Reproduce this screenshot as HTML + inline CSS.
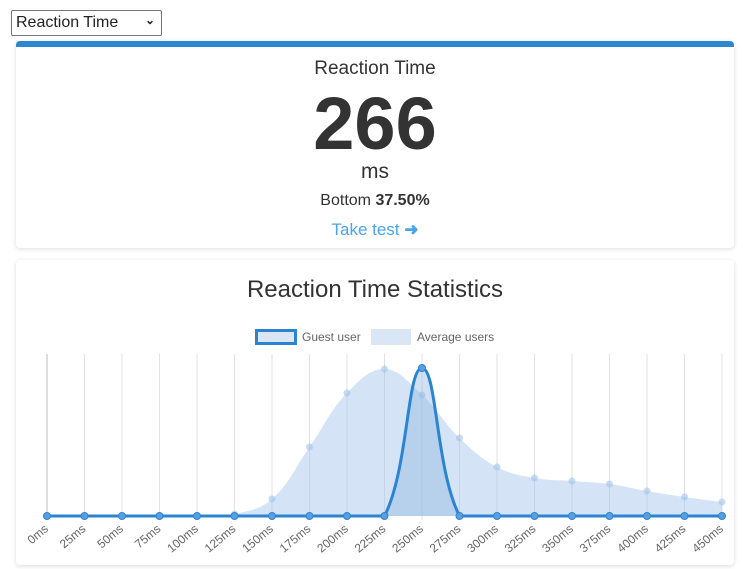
<!DOCTYPE html>
<html><head><meta charset="utf-8"><style>
html,body{margin:0;padding:0;background:#fff;width:743px;height:569px;overflow:hidden;font-family:"Liberation Sans",sans-serif;}
.sel{position:absolute;left:11px;top:10px;width:151px;height:26px;border:1px solid #767676;border-radius:2px;box-sizing:border-box;font-size:16px;color:#222;padding:3px 0 0 4px;}
.sel span.ar{position:absolute;right:6px;top:2px;font-size:12px;font-weight:bold;}
.card{position:absolute;background:#fff;border-radius:4px;box-shadow:0 1px 5px rgba(0,0,0,0.15);}
.c1{left:16px;top:41px;width:718px;height:207px;border-top:6px solid #2b88d0;box-sizing:border-box;text-align:center;color:#333;}
.c2{left:16px;top:260px;width:718px;height:305px;}
</style></head><body>
<div class="sel">Reaction Time<span class="ar">&#8964;</span></div>
<div class="card c1">
 <div style="position:absolute;left:0;right:0;top:11px;font-size:19px;">Reaction Time</div>
 <div style="position:absolute;left:0;right:0;top:34px;font-size:74px;font-weight:bold;line-height:86px;">266</div>
 <div style="position:absolute;left:0;right:0;top:113px;font-size:21px;">ms</div>
 <div style="position:absolute;left:0;right:0;top:145px;font-size:16px;">Bottom <b>37.50%</b></div>
 <div style="position:absolute;left:0;right:0;top:173px;font-size:17px;color:#4aa3ee;">Take test <b>&#10140;</b></div>
</div>
<div class="card c2">
 <div style="position:absolute;left:0;right:0;top:16px;text-align:center;font-size:24px;color:#333;">Reaction Time Statistics</div>
</div>
<svg id="chart" width="743" height="569" style="position:absolute;left:0;top:0"></svg>
<script>
const categories=[0,25,50,75,100,125,150,175,200,225,250,275,300,325,350,375,400,425,450];
const averageUsers=[0,0,0,0,0,2,17,69,123,147,121,78,49,38,35,32,25,19,14];
const guestUser=[0,0,0,0,0,0,0,0,0,0,148,0,0,0,0,0,0,0,0];
const yMax=162;
const X0=47,X1=722,Y0=516,Y1=354;
const NS='http://www.w3.org/2000/svg';
const svg=document.getElementById('chart');
const xs=i=>X0+(X1-X0)*i/(categories.length-1);
const ys=v=>Y0-(Y0-Y1)*v/yMax;
function mk(t,a){const e=document.createElementNS(NS,t);for(const k in a)e.setAttribute(k,a[k]);svg.appendChild(e);return e;}
categories.forEach((c,i)=>{
 const g=mk('line',{x1:xs(i),x2:xs(i),y1:Y1,y2:Y0+4,stroke:i==0?'#bbb':'#e2e2e2','stroke-width':1});
 
 
 const tx=xs(i)+2,ty=Y0+14;
 const t=mk('text',{x:tx,y:ty,'font-size':12,fill:'#666','text-anchor':'end','font-family':'Liberation Sans, sans-serif',transform:`rotate(-40 ${tx} ${ty})`});
 t.textContent=c+'ms';
 
 
});
function pathFor(vals){
 const p=vals.map((v,i)=>[xs(i),ys(v)]);
 let d=`M${p[0][0]},${p[0][1]}`;
 const tn=0.4;
 const cps=p.map((pt,i)=>{
  const prev=p[i-1]||pt,next=p[i+1]||pt;
  const d01=Math.hypot(pt[0]-prev[0],pt[1]-prev[1]),d12=Math.hypot(next[0]-pt[0],next[1]-pt[1]);
  let fa=d01/(d01+d12)||0,fb=d12/(d01+d12)||0;fa*=tn;fb*=tn;
  const cl=y=>Math.min(Y0,Math.max(Y1,y));
  return {px:pt[0]-fa*(next[0]-prev[0]),py:cl(pt[1]-fa*(next[1]-prev[1])),nx:pt[0]+fb*(next[0]-prev[0]),ny:cl(pt[1]+fb*(next[1]-prev[1]))};
 });
 for(let i=1;i<p.length;i++)d+=` C${cps[i-1].nx},${cps[i-1].ny} ${cps[i].px},${cps[i].py} ${p[i][0]},${p[i][1]}`;
 return d;
}
const avg=mk('path',{d:pathFor(averageUsers)+` L${X1},${Y0} L${X0},${Y0} Z`,fill:'rgba(160,196,236,0.45)',stroke:'none'});


averageUsers.forEach((v,i)=>{const c=mk('circle',{cx:xs(i),cy:ys(v),r:3.5,fill:'rgba(160,196,236,0.6)'});
 
 });
const ga=mk('path',{d:pathFor(guestUser)+` L${X1},${Y0} L${X0},${Y0} Z`,fill:'rgba(140,180,225,0.4)',stroke:'none'});


const gl=mk('path',{d:pathFor(guestUser),fill:'none',stroke:'#2b84d2','stroke-width':3});


guestUser.forEach((v,i)=>{const c=mk('circle',{cx:xs(i),cy:ys(v),r:3.5,fill:'#5b9ee0',stroke:'#2b84d2','stroke-width':1});
 
 });
const l1=mk('rect',{x:256.5,y:330.5,width:39,height:13,fill:'#d8e6f6',stroke:'#2b84d2','stroke-width':3});


const t1=mk('text',{x:302,y:341,'font-size':12,fill:'#666','font-family':'Liberation Sans, sans-serif'});t1.textContent='Guest user';


const l2=mk('rect',{x:371,y:329,width:40,height:16,fill:'#d8e6f6'});


const t2=mk('text',{x:417,y:341,'font-size':12,fill:'#666','font-family':'Liberation Sans, sans-serif'});t2.textContent='Average users';


</script>
</body></html>
